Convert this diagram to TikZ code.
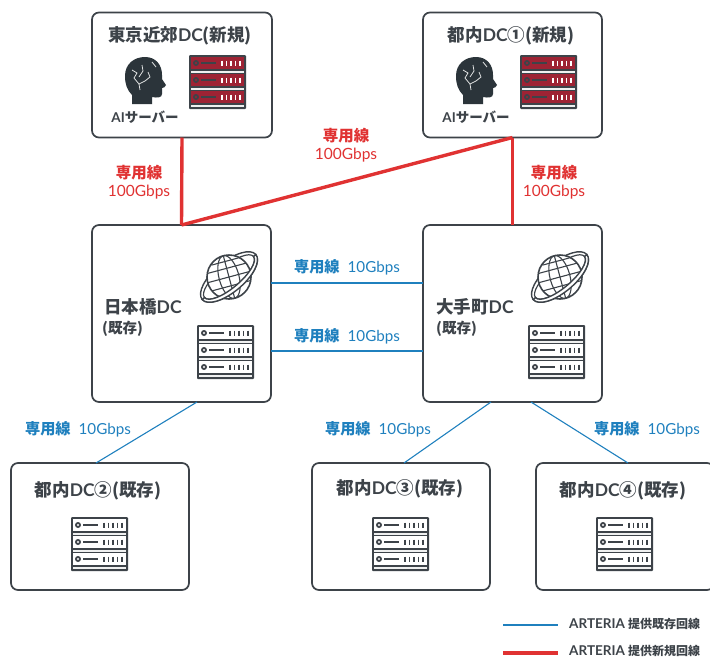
\documentclass[tikz,border=0pt]{standalone}
\usepackage{fontspec}
\setmainfont{Lato}
\newfontfamily\cjk{Noto Sans CJK JP}
\newcommand{\jp}[1]{{\cjk #1}}
\definecolor{linedark}{HTML}{3D4349}
\definecolor{headdark}{HTML}{2B343A}
\definecolor{newred}{HTML}{E03232}
\definecolor{oldblue}{HTML}{1F80BE}
\definecolor{rackred}{HTML}{9E2334}
\tikzset{
  dcbox/.style={draw=linedark,fill=white,line width=1.7pt,rounded corners=7pt,
    inner sep=0pt,outer sep=0pt},
  dctitle/.style={text=linedark,font=\fontsize{17.5}{20}\selectfont\bfseries,inner sep=0pt},
  dcsub/.style={text=linedark,font=\fontsize{14.5}{16}\selectfont\bfseries,inner sep=0pt},
  ailabel/.style={text=linedark,font=\fontsize{13.5}{15}\selectfont\bfseries,inner sep=0pt},
  redlabel/.style={text=newred,font=\fontsize{15.5}{18}\selectfont,inner sep=0pt},
  bluelabel/.style={text=oldblue,font=\fontsize{15.2}{18}\selectfont,inner sep=0pt},
  legendtext/.style={text=linedark,font=\fontsize{13.5}{15}\selectfont\bfseries,inner sep=0pt,anchor=west},
  newline/.style={draw=newred,line width=3.4pt},
  oldline/.style={draw=oldblue,line width=1.1pt},
  pics/serverrack/.style n args={3}{code={
    \fill[linedark,rounded corners=1pt] (0,0) rectangle (57,54);
    \foreach \r in {2,19,36} {
      \fill[#1] (2,\r) rectangle (55,\r+12);
      \fill[white!92!linedark] (2,\r+13.5) rectangle (55,\r+16);
      \fill[#2] (7,\r+6) circle (3pt);
      \fill[#1] (7,\r+6) circle (1.2pt);
      \draw[#2,line width=1.8pt] (12,\r+6) -- (27,\r+6);
      \foreach \t in {33,37.5,42,46.5,51}
        \draw[#3,line width=1.8pt] (\t,\r+3.5) -- (\t,\r+8.5);
    }
  }},
  pics/aihead/.style={code={
    \fill[headdark] (7,47) -- (7,38) .. controls (2,33) and (0,27) .. (0,19)
      .. controls (0,7) and (9,0) .. (20,0) .. controls (31,0) and (37,8) .. (37,18)
      -- (37,22) -- (41,28) .. controls (41,30) and (38,31) .. (37,31) -- (37,37)
      .. controls (37,41) and (32,41) .. (27,40) -- (27,47) -- cycle;
    \draw[white!85!headdark,line width=0.8pt] (7,13) -- (12,16) -- (9,21) -- (14,27) -- (20,24)
      (17,8) -- (18,14) -- (14,20) (14,27) -- (15,33) (20,24) -- (25,20) -- (23,15)
      (27,5) -- (31,10);
  }},
  pics/netglobe/.style={code={
    \begin{scope}[rotate=40]
      \draw[linedark,line width=1.4pt] (0pt,0pt) circle[x radius=35pt,y radius=15pt];
      \draw[linedark,line width=1.2pt] (0pt,0pt) circle[x radius=32pt,y radius=11pt];
    \end{scope}
    \draw[linedark,fill=white,line width=1.6pt] (0pt,0pt) circle (22pt);
    \begin{scope}[rotate=15,line width=1.1pt]
      \draw[linedark] (0pt,0pt) circle[x radius=10pt,y radius=22pt];
      \draw[linedark] (0pt,-22pt) -- (0pt,22pt);
      \draw[linedark] (-20pt,9pt) -- (20pt,9pt) (-22pt,0pt) -- (22pt,0pt) (-20pt,-9pt) -- (20pt,-9pt);
      \draw[linedark] (-14pt,16pt) -- (14pt,16pt);
    \end{scope}
    \begin{scope}[rotate=40]
      \draw[linedark,fill=white,line width=1.4pt] (-35pt,0pt)
        arc[start angle=180,end angle=360,x radius=35pt,y radius=15pt]
        -- (32pt,0pt)
        arc[start angle=360,end angle=180,x radius=32pt,y radius=11pt] -- cycle;
    \end{scope}
  }},
}
\begin{document}
\begin{tikzpicture}[x=1pt,y=-1pt]
  \useasboundingbox (0,0) rectangle (710,659);
  \node[dcbox,minimum width=180pt,minimum height=125pt] (tokyo) at (182,75) {};
  \node[dcbox,minimum width=179pt,minimum height=125pt] (toshin1) at (512.5,75) {};
  \node[dcbox,minimum width=179pt,minimum height=177pt] (nihonbashi) at (181.5,313.5) {};
  \node[dcbox,minimum width=179pt,minimum height=177pt] (otemachi) at (512.5,313.5) {};
  \node[dcbox,minimum width=178pt,minimum height=127pt] (toshin2) at (100,526.5) {};
  \node[dcbox,minimum width=178pt,minimum height=127pt] (toshin3) at (401,526.5) {};
  \node[dcbox,minimum width=178pt,minimum height=127pt] (toshin4) at (625,526.5) {};

  \draw[newline] (tokyo.south) -- (nihonbashi.north);
  \draw[newline] (toshin1.south) -- (otemachi.north);
  \draw[newline] (nihonbashi.north) -- (toshin1.south);

  \draw[oldline] ([yshift=30.5pt]nihonbashi.east) -- ([yshift=30.5pt]otemachi.west);
  \draw[oldline] ([yshift=-37.5pt]nihonbashi.east) -- ([yshift=-37.5pt]otemachi.west);
  \draw[oldline] ([xshift=15.5pt]nihonbashi.south) -- ([xshift=-4pt]toshin2.north);
  \draw[oldline] ([xshift=-21.5pt]otemachi.south) -- ([xshift=3pt]toshin3.north);
  \draw[oldline] ([xshift=18.5pt]otemachi.south) -- ([xshift=3pt]toshin4.north);

  \node[dctitle] (tokyotitle) at (180,36) {\jp{東京近郊}DC\jp{(新規)}};
  \node[dctitle] (toshin1title) at (511,36) {\jp{都内}DC\jp{①(新規)}};
  \node[dctitle,anchor=west] (nihonbashititle) at (104,307) {\jp{日本橋}DC};
  \node[dcsub,anchor=west] (nihonbashisub) at (102,329) {\jp{(既存)}};
  \node[dctitle,anchor=west] (otemachititle) at (436,307) {\jp{大手町}DC};
  \node[dcsub,anchor=west] (otemachisub) at (436,329) {\jp{(既存)}};
  \node[dctitle] (toshin2title) at (98,491) {\jp{都内}DC\jp{②(既存)}};
  \node[dctitle] (toshin3title) at (400,489) {\jp{都内}DC\jp{③(既存)}};
  \node[dctitle] (toshin4title) at (623,491) {\jp{都内}DC\jp{④(既存)}};

  \pic at (125,57) {aihead};
  \pic at (456,57) {aihead};
  \node[ailabel] (aitokyo) at (145,117) {AI\jp{サーバー}};
  \node[ailabel] (aitoshin) at (476,117) {AI\jp{サーバー}};
  \pic at (189,55) {serverrack={rackred}{linedark}{white}};
  \pic at (520,55) {serverrack={rackred}{linedark}{white}};

  \pic at (229,277) {netglobe};
  \pic at (560,277) {netglobe};
  \pic at (197,325) {serverrack={white}{linedark}{linedark}};
  \pic at (528,325) {serverrack={white}{linedark}{linedark}};
  \pic at (71,517) {serverrack={white}{linedark}{linedark}};
  \pic at (372,517) {serverrack={white}{linedark}{linedark}};
  \pic at (596,517) {serverrack={white}{linedark}{linedark}};

  \node[redlabel] (redleft) at (139,173) {\jp{\bfseries 専用線}};
  \node[redlabel] (redleftspeed) at (139,192) {100Gbps};
  \node[redlabel] (redmid) at (346,136) {\jp{\bfseries 専用線}};
  \node[redlabel] (redmidspeed) at (346,155) {100Gbps};
  \node[redlabel] (redright) at (554,173) {\jp{\bfseries 専用線}};
  \node[redlabel] (redrightspeed) at (554,192) {100Gbps};

  \node[bluelabel] (blueupper) at (347,267) {\jp{\bfseries 専用線}\hspace{8pt}10Gbps};
  \node[bluelabel] (bluelower) at (347,336) {\jp{\bfseries 専用線}\hspace{8pt}10Gbps};
  \node[bluelabel] (bluetwo) at (78,429) {\jp{\bfseries 専用線}\hspace{8pt}10Gbps};
  \node[bluelabel] (bluethree) at (378,429) {\jp{\bfseries 専用線}\hspace{8pt}10Gbps};
  \node[bluelabel] (bluefour) at (647,429) {\jp{\bfseries 専用線}\hspace{8pt}10Gbps};

  \coordinate (oldstart) at (503,625);
  \coordinate (oldend) at (558,625);
  \coordinate (newstart) at (503,653);
  \coordinate (newend) at (558,653);
  \draw[oldline] (oldstart) -- (oldend);
  \draw[newline,line width=4pt] (newstart) -- (newend);
  \node[legendtext] (oldtext) at (569,624) {ARTERIA {\fontsize{12}{14}\selectfont\jp{\bfseries 提供既存回線}}};
  \node[legendtext] (newtext) at (569,651) {ARTERIA {\fontsize{12}{14}\selectfont\jp{\bfseries 提供新規回線}}};
\end{tikzpicture}
\end{document}
